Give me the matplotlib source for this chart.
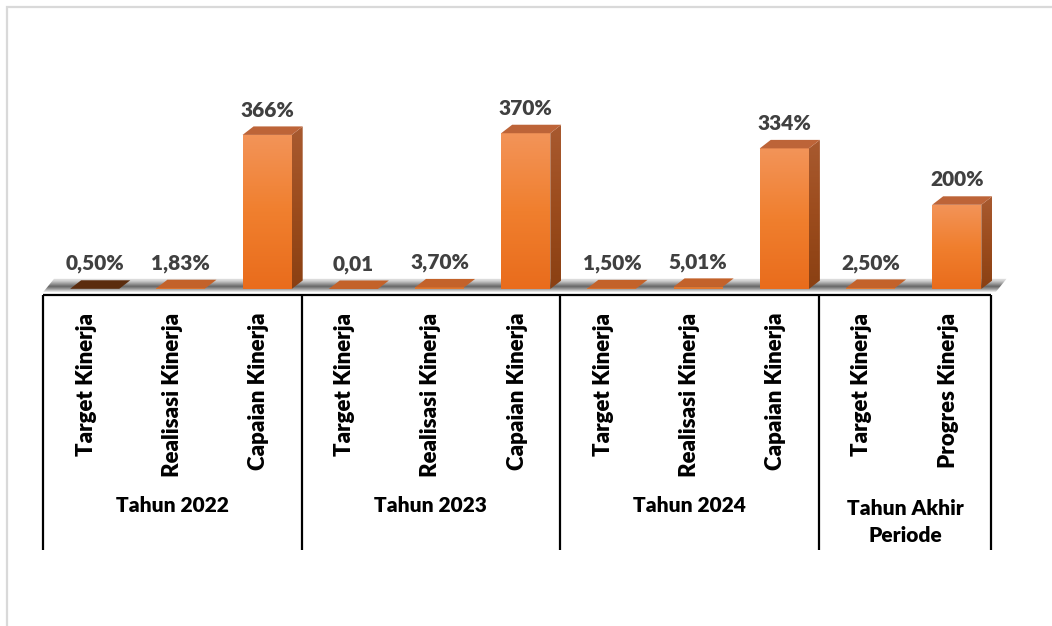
import numpy as np
import matplotlib
matplotlib.use('Agg')
import matplotlib.pyplot as plt
from matplotlib.patches import Polygon, Rectangle
from matplotlib.colors import LinearSegmentedColormap

# ========== DATA ==========
groups = ['Tahun 2022', 'Tahun 2023', 'Tahun 2024', 'Tahun Akhir\nPeriode']
group_sizes = [3, 3, 3, 2]
categories = ['Target Kinerja', 'Realisasi Kinerja', 'Capaian Kinerja',
              'Target Kinerja', 'Realisasi Kinerja', 'Capaian Kinerja',
              'Target Kinerja', 'Realisasi Kinerja', 'Capaian Kinerja',
              'Target Kinerja', 'Progres Kinerja']
values = [0.50, 1.83, 366, 0.01, 3.70, 370, 1.50, 5.01, 334, 2.50, 200]
value_labels = ['0,50%', '1,83%', '366%', '0,01', '3,70%', '370%',
                '1,50%', '5,01%', '334%', '2,50%', '200%']
# ==========================

W, H = 1052, 626
FONT = 'Lato'
WEIGHT = 'heavy'

# layout (pixels)
X0_PX = 43          # left edge of first category
CAT_PX = 86.2       # width of one category
ZERO_PX = 289       # y pixel of value 0
UNIT_PX = 0.421     # pixels per 1 %

# 3D look (data units)
BAR_W = 0.57
SHIFT = 0.10
DX = 11 / CAT_PX
DY = 8.5 / UNIT_PX

fig = plt.figure(figsize=(W / 100, H / 100), dpi=100)
fig.patch.set_facecolor('white')


def axes_rect(xlo, xhi, ylo, yhi):
    left = X0_PX + (xlo + 0.5) * CAT_PX
    right = X0_PX + (xhi + 0.5) * CAT_PX
    bottom = ZERO_PX - ylo * UNIT_PX
    top = ZERO_PX - yhi * UNIT_PX
    return [left / W, (H - bottom) / H, (right - left) / W, (bottom - top) / H]


XLIM = (-0.5, 10.9)
YLIM = (-15, 640)
ax = fig.add_axes(axes_rect(XLIM[0], XLIM[1], YLIM[0], YLIM[1]))
ax.set_xlim(*XLIM)
ax.set_ylim(*YLIM)
ax.axis('off')


def grad_fill(pts, colors, z):
    pts = np.asarray(pts, dtype=float)
    poly = Polygon(pts, closed=True, facecolor='none', edgecolor='none')
    ax.add_patch(poly)
    cmap = LinearSegmentedColormap.from_list('g', colors)
    grad = np.linspace(0, 1, 256).reshape(-1, 1)
    im = ax.imshow(grad, cmap=cmap, origin='lower', aspect='auto',
                   extent=(pts[:, 0].min(), pts[:, 0].max(),
                           pts[:, 1].min(), pts[:, 1].max()),
                   zorder=z, interpolation='bilinear')
    im.set_clip_path(poly)


# floor / shadow strip
n = len(values)
floor = [(-0.5, -8), (n - 0.5 + 0.05, -8),
         (n - 0.5 + 0.05 + DX, DY + 4), (-0.5 + DX, DY + 4)]
grad_fill(floor, ['#f4f4f4', '#a0a0a0', '#666666', '#9c9c9c', '#d0d0d0', '#e8e8e8'], 1)

top_colors = ['#5b2c0e'] + ['#c3622a'] * (n - 1)

for i, v in enumerate(values):
    x0 = i - BAR_W / 2 + SHIFT
    x1 = x0 + BAR_W
    front = [(x0, 0), (x1, 0), (x1, v), (x0, v)]
    side = [(x1, 0), (x1 + DX, DY), (x1 + DX, v + DY), (x1, v)]
    top = [(x0, v), (x1, v), (x1 + DX, v + DY), (x0 + DX, v + DY)]
    if v > 10:
        grad_fill(front, ['#e96c1c', '#f07f2e', '#f39459'], 3)
        grad_fill(side, ['#8a4013', '#9c4c1d', '#a85a30'], 3)
        ax.add_patch(Polygon(top, closed=True, facecolor='#bd6438',
                             edgecolor='none', zorder=4))
    else:
        ax.add_patch(Polygon(front, closed=True, facecolor='#e0782f',
                             edgecolor='none', zorder=3))
        ax.add_patch(Polygon(top, closed=True, facecolor=top_colors[i],
                             edgecolor='none', zorder=4))
    ax.text(i + SHIFT, v + 59, value_labels[i], ha='center', va='center',
            fontsize=15, fontweight=WEIGHT, color='#404040', family=FONT,
            zorder=5)

# multi-level category axis
TAB_TOP, TAB_BOT = 295, 550
tax = fig.add_axes([(X0_PX) / W, (H - TAB_BOT) / H,
                    n * CAT_PX / W, (TAB_BOT - TAB_TOP) / H])
tax.set_xlim(-0.5, n - 0.5)
tax.set_ylim(0, 1)
tax.axis('off')

tax.plot([-0.5, n - 0.5], [1, 1], color='black', lw=1.6,
         clip_on=False, solid_capstyle='butt')
bounds = np.concatenate([[0], np.cumsum(group_sizes)]) - 0.5
for b in bounds:
    tax.plot([b, b], [0, 1], color='black', lw=1.6, clip_on=False,
             solid_capstyle='butt')

for i, c in enumerate(categories):
    tax.text(i, 1 - 18 / (TAB_BOT - TAB_TOP), c, rotation=90, ha='center',
             va='top', fontsize=16, fontweight=WEIGHT, color='black',
             family=FONT)

for g, lo, hi in zip(groups, bounds[:-1], bounds[1:]):
    ypx = 522 if '\n' in g else 506
    tax.text((lo + hi) / 2, (TAB_BOT - ypx) / (TAB_BOT - TAB_TOP), g,
             ha='center', va='center', fontsize=15, fontweight=WEIGHT,
             color='black', family=FONT, linespacing=1.55)

# light outer frame
fig.add_artist(Rectangle((7 / W, -0.1), 1.2, (H - 7) / H + 0.1,
                         transform=fig.transFigure, fill=False,
                         edgecolor='#d9d9d9', lw=1.6))

fig.savefig('out.png', dpi=100)
